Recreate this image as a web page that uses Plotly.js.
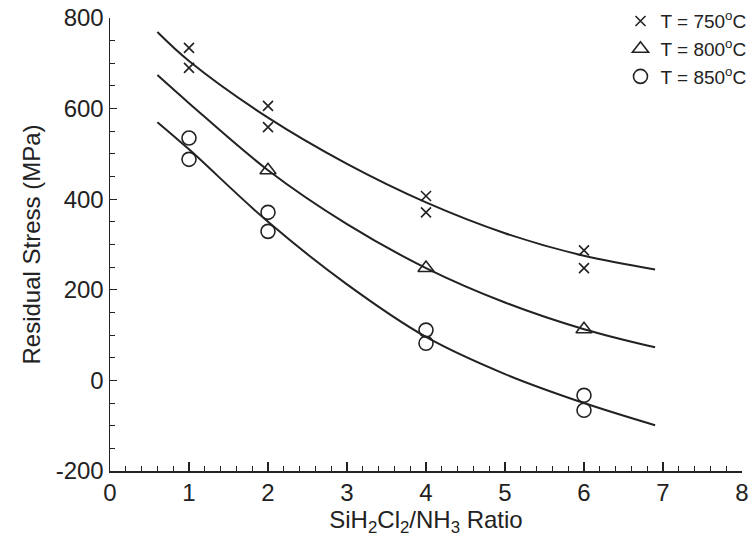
<!DOCTYPE html>
<html><head><meta charset="utf-8">
<script src="https://cdn.plot.ly/plotly-3.0.1.min.js"></script>
<style>body{margin:0;background:#fff}#chart{width:754px;height:543px}</style>
</head><body><div id="chart"></div>
<script>
// Measured points
const ratioPts = [1, 1, 2, 2, 4, 4, 6, 6];
const stress750 = [734, 690, 606, 559, 407, 371, 287, 248];
const ratioPts800 = [2, 4, 6];
const stress800 = [464, 248, 113];
const stress850 = [535, 488, 371, 329, 111, 82, -33, -66];
// Fitted curves
const curveX = [0.6, 1, 2, 3, 4, 5, 6, 6.9];
const curve750 = [769, 705, 580, 478, 393, 325, 275, 245];
const curve800 = [674, 612, 464, 345, 248, 172, 113, 73];
const curve850 = [570, 510, 350, 212, 96, 14, -50, -99];
const legendNames = ['T = 750<sup>o</sup>C', 'T = 800<sup>o</sup>C', 'T = 850<sup>o</sup>C'];
const yTickVals = [-200, 0, 200, 400, 600, 800];
const yTickText = ['-200', '0', '200', '400', '600', '800'];

const ink = '#222';
const lineStyle = {color: ink, width: 2, shape: 'spline', smoothing: 1};
const traces = [
  {x: curveX, y: curve750, mode: 'lines', line: lineStyle, showlegend: false, hoverinfo: 'skip'},
  {x: curveX, y: curve800, mode: 'lines', line: lineStyle, showlegend: false, hoverinfo: 'skip'},
  {x: curveX, y: curve850, mode: 'lines', line: lineStyle, showlegend: false, hoverinfo: 'skip'},
  {x: ratioPts, y: stress750, mode: 'markers', name: legendNames[0],
   marker: {symbol: 'x-thin', size: 10, color: ink, line: {color: ink, width: 1.6}}},
  {x: ratioPts800, y: stress800, mode: 'markers', name: legendNames[1],
   marker: {symbol: 'triangle-up-open', size: 14, color: ink, line: {color: ink, width: 1.6}}},
  {x: ratioPts, y: stress850, mode: 'markers', name: legendNames[2],
   marker: {symbol: 'circle-open', size: 14, color: ink, line: {color: ink, width: 1.6}}}
];

const fam = 'Liberation Sans, Arial, sans-serif';
const font = {family: fam, color: ink};
const layout = {
  width: 754, height: 543,
  margin: {l: 110, r: 12, t: 18, b: 72, autoexpand: false},
  paper_bgcolor: '#fff', plot_bgcolor: '#fff',
  font: font,
  showlegend: true,
  legend: {x: 1.015, xanchor: 'right', y: 1.035, yanchor: 'top', bgcolor: 'rgba(0,0,0,0)',
           font: {size: 19, family: fam, color: ink}, itemwidth: 30, tracegroupgap: 0},
  xaxis: {
    range: [0, 8], dtick: 1, tick0: 0, showgrid: false, zeroline: false, automargin: false,
    showline: true, linecolor: ink, linewidth: 1.5,
    ticks: 'inside', ticklen: 9, tickwidth: 1.2, tickcolor: ink,
    minor: {dtick: 0.2, ticks: 'inside', ticklen: 5, tickwidth: 1, tickcolor: ink, showgrid: false},
    tickfont: {size: 24, family: fam, color: ink},
    title: {text: 'SiH<sub>2</sub>Cl<sub>2</sub>/NH<sub>3</sub> Ratio', font: {size: 24, family: fam, color: ink}, standoff: 6}
  },
  yaxis: {
    range: [-200, 800], tickmode: 'array', tickvals: yTickVals, ticktext: yTickText,
    showgrid: false, zeroline: false, automargin: false,
    showline: true, linecolor: ink, linewidth: 1.5,
    ticks: 'inside', ticklen: 7, tickwidth: 1.2, tickcolor: ink,
    minor: {dtick: 50, tick0: 0, ticks: 'inside', ticklen: 5, tickwidth: 1, tickcolor: ink, showgrid: false},
    tickfont: {size: 24, family: fam, color: ink},
    title: {text: 'Residual Stress (MPa)', font: {size: 24, family: fam, color: ink}, standoff: 8}
  }
};
Plotly.newPlot('chart', traces, layout, {displayModeBar: false, staticPlot: true});
</script></body></html>
